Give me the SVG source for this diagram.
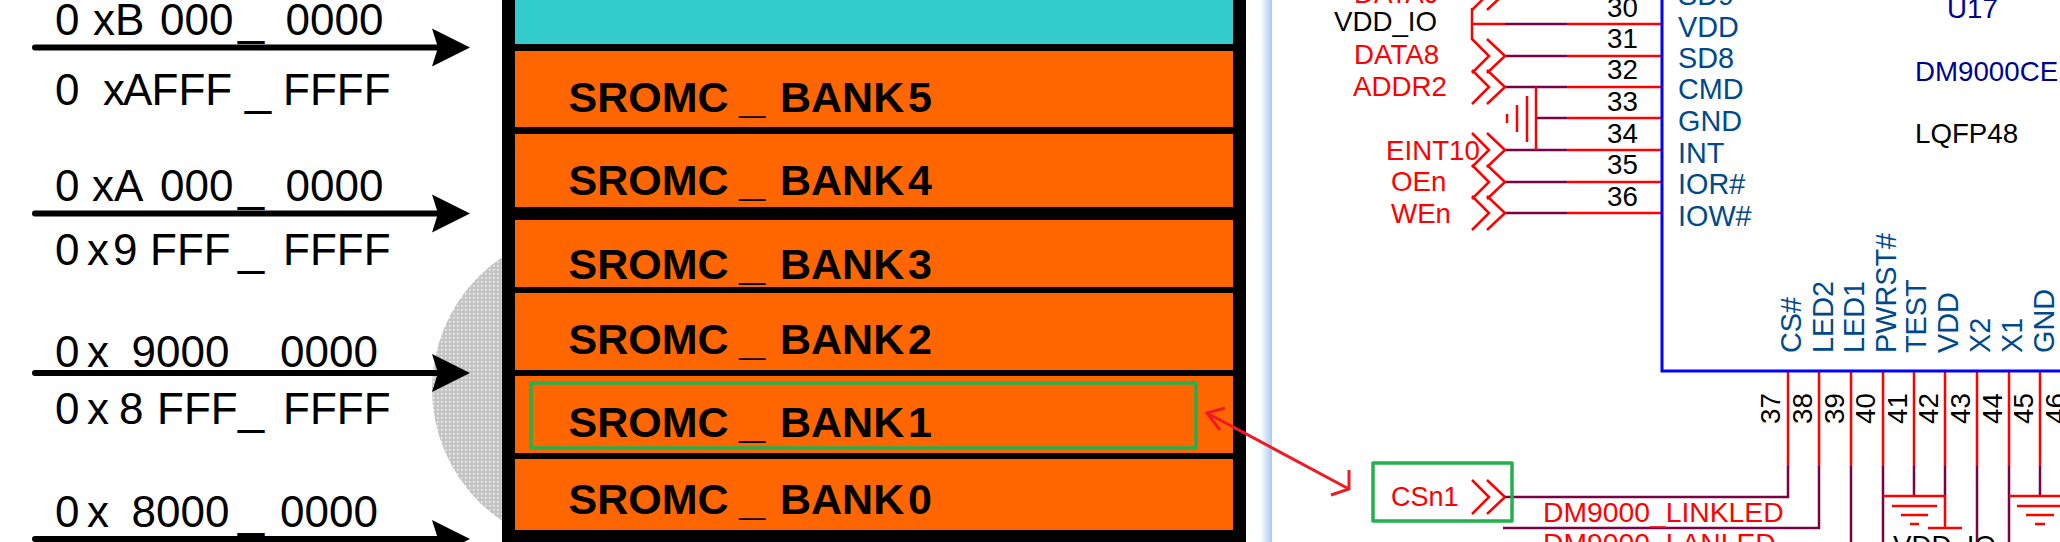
<svg xmlns="http://www.w3.org/2000/svg" width="2060" height="542" viewBox="0 0 2060 542">
<style>
text{font-family:"Liberation Sans",Arial,sans-serif}
.addr{font-size:44px;fill:#000}
.bank{font-size:43px;font-weight:bold;fill:#000}
.us{font-size:47px;font-weight:bold}
.ua{font-size:47px}
.sch{font-size:27.7px}
.net{font-size:28.3px}
.pn{font-size:28.8px}
.red{fill:#f00}.blk{fill:#000}.pin{fill:#004a8c}.navy{fill:#000090}
.orange{fill:#f60}
.shaft{stroke:#000;stroke-width:6;stroke-linecap:round;fill:none}
.r{stroke:#f00;stroke-width:2.5;fill:none}
.p{stroke:#7b0045;stroke-width:2.5;fill:none}
.grn{stroke:#22b14c;stroke-width:3.5;fill:none;stroke-linejoin:round}
</style>
<defs>
<pattern id="dots" width="4" height="4" patternUnits="userSpaceOnUse"><rect width="4" height="4" fill="#c4c4c4"/><rect x="1" y="1" width="1.6" height="1.6" fill="#f0f0f0"/></pattern>
<linearGradient id="edge" x1="0" x2="1" y1="0" y2="0"><stop offset="0" stop-color="#fff"/><stop offset="0.55" stop-color="#fff"/><stop offset="1" stop-color="#a9c9f2"/></linearGradient>
<path id="head" d="M432 -19L470 0L432 19L438 0Z" fill="#000"/>
<path id="chev" d="M-33 -17L-16 0L-33 17M-18 -17L0 0L-18 17" stroke="#f00" stroke-width="2.5" fill="none"/>
</defs>
<rect width="2060" height="542" fill="#fff"/>
<circle cx="591" cy="389" r="159" fill="url(#dots)"/>
<rect x="1246" y="0" width="26" height="542" fill="url(#edge)"/>

<g id="memory-map">
<rect x="502" y="0" width="744" height="542" fill="#000"/>
<rect x="515" y="0" width="718" height="44" fill="#3cc"/>
</g>
<g id="bank5"><rect class="orange" x="515" y="51" width="718" height="76"/><text class="bank" y="112"><tspan x="568.5">SROMC </tspan><tspan class="us" x="739">_ </tspan><tspan x="780">BANK</tspan><tspan x="908">5</tspan></text></g>
<g id="bank4"><rect class="orange" x="515" y="134" width="718" height="73"/><text class="bank" y="195"><tspan x="568.5">SROMC </tspan><tspan class="us" x="739">_ </tspan><tspan x="780">BANK</tspan><tspan x="908">4</tspan></text></g>
<g id="bank3"><rect class="orange" x="515" y="220" width="718" height="67"/><text class="bank" y="279"><tspan x="568.5">SROMC </tspan><tspan class="us" x="739">_ </tspan><tspan x="780">BANK</tspan><tspan x="908">3</tspan></text></g>
<g id="bank2"><rect class="orange" x="515" y="293" width="718" height="77"/><text class="bank" y="354"><tspan x="568.5">SROMC </tspan><tspan class="us" x="739">_ </tspan><tspan x="780">BANK</tspan><tspan x="908">2</tspan></text></g>
<g id="bank1"><rect class="orange" x="515" y="376" width="718" height="77"/><text class="bank" y="437"><tspan x="568.5">SROMC </tspan><tspan class="us" x="739">_ </tspan><tspan x="780">BANK</tspan><tspan x="908">1</tspan></text><rect class="grn" x="531" y="383" width="665" height="65"/></g>
<g id="bank0"><rect class="orange" x="515" y="459" width="718" height="71"/><text class="bank" y="514"><tspan x="568.5">SROMC </tspan><tspan class="us" x="739">_ </tspan><tspan x="780">BANK</tspan><tspan x="908">0</tspan></text></g>

<g id="addresses">
<text class="addr" y="35"><tspan x="55">0 </tspan><tspan x="93">xB </tspan><tspan x="160">000</tspan><tspan class="ua" x="238">_ </tspan><tspan x="285.5">0000</tspan></text>
<text class="addr" y="105"><tspan x="55">0 </tspan><tspan x="103">x</tspan><tspan x="123">A</tspan><tspan x="151.5">FFF</tspan><tspan class="ua" x="245">_ </tspan><tspan x="283">FFFF</tspan></text>
<text class="addr" y="201"><tspan x="55">0 </tspan><tspan x="92">xA </tspan><tspan x="160">000</tspan><tspan class="ua" x="238">_ </tspan><tspan x="285.5">0000</tspan></text>
<text class="addr" y="265"><tspan x="55">0 </tspan><tspan x="87">x</tspan><tspan x="113">9 </tspan><tspan x="150">FFF</tspan><tspan class="ua" x="238">_ </tspan><tspan x="283">FFFF</tspan></text>
<text class="addr" y="367"><tspan x="55">0 </tspan><tspan x="87">x </tspan><tspan x="131.5">9000 </tspan><tspan x="280">0000</tspan></text>
<text class="addr" y="424"><tspan x="55">0 </tspan><tspan x="87">x </tspan><tspan x="119">8 </tspan><tspan x="157">FFF</tspan><tspan class="ua" x="238">_ </tspan><tspan x="283">FFFF</tspan></text>
<text class="addr" y="527"><tspan x="55">0 </tspan><tspan x="87">x </tspan><tspan x="131.5">8000 </tspan><tspan class="ua" x="238">_ </tspan><tspan x="280">0000</tspan></text>
</g>

<g id="connectors">
<path class="shaft" d="M35 47.5H438M35 213.5H438M35 373H438M35 539H438"/>
<use href="#head" y="47.5"/><use href="#head" y="213.5"/><use href="#head" y="373"/><use href="#head" y="539"/>
<path d="M1207 413L1349 489M1225 408L1207 413L1220 430M1331 495L1349 489L1349 470" stroke="#ed1c24" stroke-width="3" fill="none"/>
<path class="r" d="M1472 24H1505M1472 8V40"/>
<path class="p" d="M1505 24H1567M1505 56H1567M1505 87H1567M1536 118H1567M1505 150H1567M1505 182H1567M1505 213H1567"/>
<path class="r" d="M1567 24H1662M1567 56H1662M1567 87H1662M1567 118H1662M1567 150H1662M1567 182H1662M1567 213H1662M1536 87V150"/>
<use href="#chev" x="1505" y="-7"/><use href="#chev" x="1505" y="56"/><use href="#chev" x="1505" y="87"/><use href="#chev" x="1505" y="150"/><use href="#chev" x="1505" y="182"/><use href="#chev" x="1505" y="213"/><use href="#chev" x="1505" y="497"/>
<path class="r" d="M1527 96V142M1517 105V132M1507 114V123"/>
<path class="r" d="M1788 371V466M1819 371V466M1851 371V466M1883 371V466M1914 371V466M1945 371V466M1977 371V466M2009 371V466M2040 371V466"/>
<path class="p" d="M1505 497H1788V466M1503 528H1819V466M1851 466V542M1883 466V542M1914 466V496M1945 466V496M1977 466V542M2009 466V542M2040 466V496"/>
<path class="r" d="M1883 496H1945V528M1928 528H1962M2009 496H2060M1892 506H1937M1901 515H1928M1910 524H1919M2017 506H2060M2026 515H2054M2035 524H2045"/>
</g>

<g id="csn1"><text class="red" x="1391" y="506" style="font-size:27px">CSn1</text><rect class="grn" x="1373" y="463" width="139" height="58"/></g>

<g id="u17">
<path d="M2060 371H1662V0" stroke="#00f" stroke-width="3" fill="none"/>
<text class="sch navy" x="1947" y="18">U17</text>
<text class="sch navy" x="1915" y="81">DM9000CE</text>
<text class="sch blk" x="1915" y="143">LQFP48</text>
<g>
<text class="pn pin" x="1678" y="5">SD9</text>
<text class="pn pin" x="1678" y="37">VDD</text>
<text class="pn pin" x="1678" y="68">SD8</text>
<text class="pn pin" x="1678" y="99">CMD</text>
<text class="pn pin" x="1678" y="131">GND</text>
<text class="pn pin" x="1678" y="163">INT</text>
<text class="pn pin" x="1678" y="194">IOR#</text>
<text class="pn pin" x="1678" y="226">IOW#</text>
<text class="pn pin" transform="translate(1801 353) rotate(-90)">CS#</text>
<text class="pn pin" transform="translate(1833 353) rotate(-90)">LED2</text>
<text class="pn pin" transform="translate(1864 353) rotate(-90)">LED1</text>
<text class="pn pin" transform="translate(1896 353) rotate(-90)">PWRST#</text>
<text class="pn pin" transform="translate(1926 353) rotate(-90)">TEST</text>
<text class="pn pin" transform="translate(1958 353) rotate(-90)">VDD</text>
<text class="pn pin" transform="translate(1990 353) rotate(-90)">X2</text>
<text class="pn pin" transform="translate(2022 353) rotate(-90)">X1</text>
<text class="pn pin" transform="translate(2054 353) rotate(-90)">GND</text>
</g>
<g>
<text class="sch blk" x="1607" y="17">30</text>
<text class="sch blk" x="1607" y="48">31</text>
<text class="sch blk" x="1607" y="79">32</text>
<text class="sch blk" x="1607" y="111">33</text>
<text class="sch blk" x="1607" y="143">34</text>
<text class="sch blk" x="1607" y="174">35</text>
<text class="sch blk" x="1607" y="206">36</text>
<text class="sch blk" transform="translate(1780 424) rotate(-90)">37</text>
<text class="sch blk" transform="translate(1812 424) rotate(-90)">38</text>
<text class="sch blk" transform="translate(1844 424) rotate(-90)">39</text>
<text class="sch blk" transform="translate(1875 424) rotate(-90)">40</text>
<text class="sch blk" transform="translate(1907 424) rotate(-90)">41</text>
<text class="sch blk" transform="translate(1938 424) rotate(-90)">42</text>
<text class="sch blk" transform="translate(1970 424) rotate(-90)">43</text>
<text class="sch blk" transform="translate(2002 424) rotate(-90)">44</text>
<text class="sch blk" transform="translate(2033 424) rotate(-90)">45</text>
<text class="sch blk" transform="translate(2065 424) rotate(-90)">46</text>
</g>
</g>

<g id="net-labels">
<text class="sch red" x="1354" y="3">DATA9</text>
<text class="sch blk" x="1334" y="31">VDD_IO</text>
<text class="sch red" x="1354" y="64">DATA8</text>
<text class="sch red" x="1353" y="96">ADDR2</text>
<text class="sch red" x="1386" y="160">EINT10</text>
<text class="sch red" x="1391" y="191">OEn</text>
<text class="sch red" x="1391" y="223">WEn</text>
<text class="net red" x="1543" y="522">DM9000_LINKLED</text>
<text class="net red" x="1543" y="553">DM9000_LANLED</text>
<text class="sch blk" x="1893" y="555">VDD_IO</text>
</g>
</svg>
